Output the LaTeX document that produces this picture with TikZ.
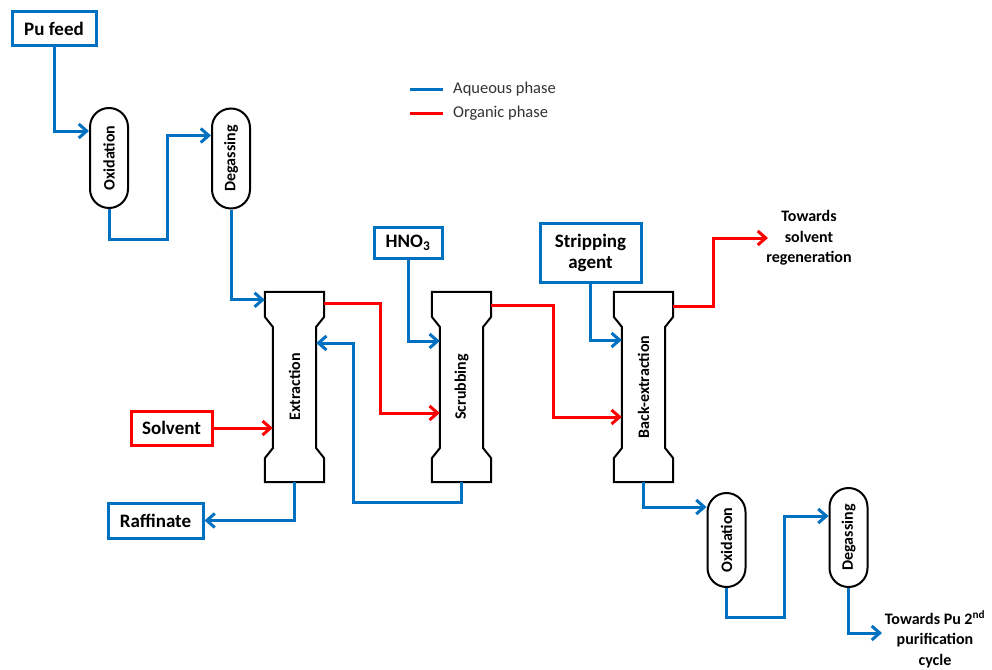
\documentclass[tikz,border=0pt]{standalone}
\usepackage{fontspec}
\setmainfont{Carlito}
\usetikzlibrary{arrows.meta,calc}
\definecolor{aqblue}{RGB}{0,112,192}
\definecolor{orgred}{RGB}{255,0,0}

% outline of a pulsed column: wide head and foot, narrower body
\newcommand\columnoutline[1]{%
  \draw[black,line width=2pt,line join=miter]
    (#1.north west) -- ++(0,25) -- ++(8,10)
    -- ($(#1.south west)+(8,-34)$) -- ++(-8,10) -- (#1.south west)
    -- (#1.south east) -- ++(0,-24) -- ++(-8,-10)
    -- ($(#1.north east)+(-8,35)$) -- ++(8,-10) -- (#1.north east) -- cycle;}

\begin{document}
\begin{tikzpicture}[x=1pt,y=-1pt,
  aq/.style={draw=aqblue,line width=3pt},
  org/.style={draw=orgred,line width=3pt},
  flow/.style={-{Straight Barb[length=8pt,width=14pt]}},
  feedbox/.style={draw,line width=3pt,fill=white,inner sep=0pt,align=center,
    font=\fontsize{19}{21}\selectfont\bfseries},
  vessel/.style={draw=black,line width=2pt,rounded corners=19pt,
    minimum width=38pt,inner sep=0pt},
  column/.style={inner sep=0pt,minimum width=59pt,minimum height=190pt},
  unitlabel/.style={rotate=90,inner sep=0pt,font=\fontsize{16}{19}\selectfont\bfseries},
  outlet/.style={align=center,inner sep=0pt,font=\fontsize{16}{20.5}\selectfont\bfseries},
  legendtext/.style={anchor=west,inner sep=0pt,text=black!80,font=\fontsize{16.5}{19}\selectfont}
]
\useasboundingbox[fill=white] (0,0) rectangle (992,669);

% legend
\node[legendtext] (lgaq) at (453,89) {Aqueous phase};
\node[legendtext] (lgorg) at (453,113) {Organic phase};
\draw[aq] ($(lgaq.west)+(-43,0)$) -- ($(lgaq.west)+(-10,0)$);
\draw[org] ($(lgorg.west)+(-43,0)$) -- ($(lgorg.west)+(-10,0)$);

% feeds and products
\node[feedbox,draw=aqblue,minimum width=84pt,minimum height=34pt] (pufeed) at (54,29) {Pu feed};
\node[feedbox,draw=orgred,minimum width=81pt,minimum height=34pt] (solvent) at (171.5,428) {Solvent};
\node[feedbox,draw=aqblue,minimum width=95pt,minimum height=35pt] (raff) at (155.5,520.5) {Raffinate};
\node[feedbox,draw=aqblue,minimum width=68pt,minimum height=31pt] (hno3) at (408,242.5) {HNO\textsubscript{3}};
\node[feedbox,draw=aqblue,minimum width=101pt,minimum height=59pt] (strip) at (590.5,252.5) {Stripping\\agent};

% conditioning vessels
\node[vessel,minimum height=100pt] (ox1) at (109,158) {};
\node[unitlabel] (ox1l) at (ox1) {Oxidation};
\node[vessel,minimum height=100pt] (dg1) at (231,158.5) {};
\node[unitlabel] (dg1l) at (dg1) {Degassing};
\node[vessel,minimum height=94pt] (ox2) at (726.5,540) {};
\node[unitlabel] (ox2l) at (ox2) {Oxidation};
\node[vessel,minimum height=99pt] (dg2) at (848.5,537.5) {};
\node[unitlabel] (dg2l) at (dg2) {Degassing};

% columns
\node[column] (ext) at (294.5,387) {};
\columnoutline{ext}
\node[unitlabel] (extl) at (ext) {Extraction};
\node[column] (scr) at (461.5,387) {};
\columnoutline{scr}
\node[unitlabel] (scrl) at (scr) {Scrubbing};
\node[column] (bex) at (643.5,387) {};
\columnoutline{bex}
\node[unitlabel] (bexl) at (bex) {Back-extraction};

% outlet labels
\node[outlet] (tsr) at (809,238) {Towards\\solvent\\regeneration};
\node[outlet] (tpu) at (935,639) {Towards Pu 2\textsuperscript{nd}\\purification\\cycle};
\coordinate (tsrin) at (768,238);
\coordinate (tpuin) at (882,633);

% aqueous flows
\draw[aq,flow] (pufeed.south) |- ($(ox1.north west)+(0,24)$);
\draw[aq,flow] (ox1.south) -- ++(0,30) -| ($(dg1.north west)+(-44,28)$) -- ($(dg1.north west)+(0,28)$);
\draw[aq,flow] (dg1.south) |- ($(ext.north west)+(0,8)$);
\draw[aq,flow] (scr.south) -- ++(0,20) -| ($(ext.east)+(29,-44)$) -- ($(ext.east)+(-8,-44)$);
\draw[aq,flow] (hno3.south) |- ($(scr.west)+(8,-46)$);
\draw[aq,flow] (ext.south) |- (raff.east);
\draw[aq,flow] (strip.south) |- ($(bex.west)+(8,-47)$);
\draw[aq,flow] (bex.south) |- ($(ox2.north west)+(0,15)$);
\draw[aq,flow] (ox2.south) -- ++(0,29) -| ($(dg2.north west)+(-44,29)$) -- ($(dg2.north west)+(0,29)$);
\draw[aq,flow] (dg2.south) |- (tpuin);

% organic flows
\draw[org,flow] (solvent.east) -- ($(ext.west)+(8,41)$);
\draw[org,flow] ($(ext.north east)+(0,12)$) -- ++(56,0) |- ($(scr.west)+(8,26)$);
\draw[org,flow] ($(scr.north east)+(0,14)$) -- ++(62,0) |- ($(bex.west)+(8,30)$);
\draw[org,flow] ($(bex.north east)+(0,15)$) -- ++(40,0) |- (tsrin);
\end{tikzpicture}
\end{document}
